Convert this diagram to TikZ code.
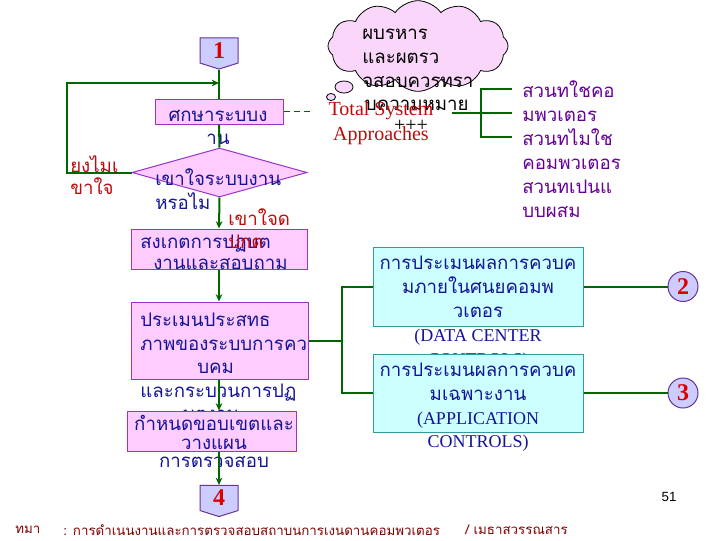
\documentclass[tikz,border=0pt]{standalone}
\usepackage{fontspec}
\newfontfamily\thai[Script=Thai]{Loma}
\newfontfamily\serifr{Liberation Serif}
\newfontfamily\sansr{Liberation Sans}
\usetikzlibrary{shapes.geometric,shapes.symbols,arrows.meta}
\definecolor{pinkfill}{RGB}{255,204,255}
\definecolor{pinkedge}{RGB}{153,51,204}
\definecolor{cyanfill}{RGB}{204,255,255}
\definecolor{cyanedge}{RGB}{51,153,153}
\definecolor{lavfill}{RGB}{204,204,255}
\definecolor{lavedge}{RGB}{102,51,153}
\definecolor{lgreen}{RGB}{0,102,0}
\definecolor{navytxt}{RGB}{20,20,150}
\definecolor{redtxt}{RGB}{190,10,10}
\definecolor{numred}{RGB}{220,0,0}
\definecolor{purtxt}{RGB}{102,0,153}
\definecolor{foottxt}{RGB}{128,0,0}
\definecolor{cloudfill}{RGB}{250,215,250}
\lineskiplimit=-100pt
\begin{document}
\begin{tikzpicture}[x=0.75pt,y=-0.75pt,
  pinkbox/.style={rectangle,draw=pinkedge,fill=pinkfill,line width=0.75pt,inner sep=0pt},
  cyanbox/.style={rectangle,draw=cyanedge,fill=cyanfill,line width=0.75pt,inner sep=0pt},
  pent/.style={shape=signal,signal to=south,signal pointer angle=145,draw=lavedge,fill=lavfill,line width=0.75pt,inner sep=0pt,minimum width=28.5pt,minimum height=20.25pt,text=numred,font=\serifr\bfseries\fontsize{18}{18}\selectfont},
  circnum/.style={circle,draw=lavedge,fill=lavfill,line width=0.75pt,inner sep=0pt,minimum size=22.5pt,text=numred,font=\serifr\bfseries\fontsize{18}{18}\selectfont},
  gline/.style={draw=lgreen,line width=1.5pt},
  flowarrow/.style={gline,-{Stealth[length=5.5pt,width=5pt]}},
  thtxt/.style={inner sep=0pt,text=navytxt},
  redlbl/.style={inner sep=0pt,text=redtxt},
  foot/.style={inner sep=0pt,anchor=west,text=foottxt,font=\thai\fontsize{10}{10}\selectfont},
]
\useasboundingbox (0,0) rectangle (720,540);

% cloud
\node[cloud,draw=black,fill=cloudfill,cloud puffs=12,cloud puff arc=110,aspect=2,minimum width=135pt,minimum height=68pt,line width=0.6pt] (cl) at (418,46) {};
\node[ellipse,draw=black,fill=cloudfill,line width=0.6pt,inner sep=0pt,minimum width=13.5pt,minimum height=9pt] (b1) at (344,87) {};
\node[ellipse,draw=black,fill=cloudfill,line width=0.6pt,inner sep=0pt,minimum width=6.75pt,minimum height=5.25pt] (b2) at (331,97) {};
\node[inner sep=0pt,anchor=west,align=left,text=black,font=\thai\fontsize{14}{17.8}\selectfont] (clt) at (362,70) {ผบรหาร\\และผตรว\\จสอบควรทรา\\\hspace*{2pt}บความหมาย};

% Total System Approaches
\node[inner sep=0pt,align=center,text=redtxt,font=\serifr\fontsize{15}{18.75}\selectfont] (tsa) at (381,123.5) {Total System\\Approaches};
\node[inner sep=0pt,text=black,font=\serifr\fontsize{15}{15}\selectfont] (plus) at (411,126) {+++};

% left flow
\node[pent] (p1) at (219,50.5) {1};
\node[pinkbox,minimum width=96pt,minimum height=18.75pt] (s1) at (219,111.5) {};
\node[thtxt,align=center,font=\thai\fontsize{14}{17.25}\selectfont] (t1) at (218,127.5) {ศกษาระบบง\\าน};
\node[diamond,draw=pinkedge,fill=pinkfill,line width=0.75pt,inner sep=0pt,minimum width=131.25pt,minimum height=36.75pt] (dia) at (219.5,172.5) {};
\node[thtxt,anchor=west,align=left,font=\thai\fontsize{14}{18}\selectfont] (t2) at (155,189) {เขาใจระบบงาน\\หรอไม};
\node[redlbl,anchor=west,align=left,font=\thai\fontsize{14}{16.5}\selectfont] (t3) at (70,175.5) {ยงไมเ\\ขาใจ};
\node[pinkbox,minimum width=132pt,minimum height=30pt] (s2) at (219,249) {};
\node[thtxt,anchor=west,align=left,font=\thai\fontsize{14}{15.75}\selectfont] (t5) at (140,252.5) {สงเกตการปฏบต\\\hspace*{9.75pt}งานและสอบถาม};
\node[redlbl,anchor=west,align=left,font=\thai\fontsize{14}{17.25}\selectfont] (t4) at (228,228.5) {เขาใจด\\ปกต};
\node[pinkbox,minimum width=132.75pt,minimum height=57.75pt] (s3) at (219.5,340.5) {};
\node[thtxt,anchor=west,align=left,font=\thai\fontsize{14}{17.6}\selectfont] (t6) at (140,367) {ประเมนประสทธ\\ภาพของระบบการคว\\\hspace*{42.75pt}บคม\\และกระบวนการปฏ\\\hspace*{32pt}บตงาน};
\node[pinkbox,minimum width=126.75pt,minimum height=30pt] (s4) at (211.5,431) {};
\node[thtxt,align=center,font=\thai\fontsize{14}{13.9}\selectfont] (t7) at (214,441.5) {กำหนดขอบเขตและ\\วางแผน\\การตรวจสอบ};
\node[pent] (p4) at (219,498) {4};

% right boxes
\node[cyanbox,minimum width=157.5pt,minimum height=59.25pt] (cA) at (478,286.5) {};
\node[thtxt,align=center,font=\thai\fontsize{14}{18}\selectfont] (tA) at (478,312.5) {การประเมนผลการควบค\\มภายในศนยคอมพ\hspace*{27pt}\\วเตอร\\{\serifr\fontsize{13.5}{18}\selectfont (DATA CENTER}\\{\serifr\fontsize{13.5}{18}\selectfont CONTROLS)}};
\node[cyanbox,minimum width=157.5pt,minimum height=58.5pt] (cB) at (478,393) {};
\node[thtxt,align=center,font=\thai\fontsize{14}{17.8}\selectfont] (tB) at (478,407.5) {การประเมนผลการควบค\\มเฉพาะงาน\\{\serifr\fontsize{13.5}{17.8}\selectfont (APPLICATION}\\{\serifr\fontsize{13.5}{17.8}\selectfont CONTROLS)}};
\node[circnum] (c2) at (683,286.5) {2};
\node[circnum] (c3) at (683,393) {3};

% right purple text
\node[inner sep=0pt,anchor=west,align=left,text=purtxt,font=\thai\fontsize{14}{17.9}\selectfont] (rt) at (522,149) {สวนทใชคอ\\มพวเตอร\\สวนทไมใช\\คอมพวเตอร\\สวนทเปนแ\\บบผสม};

% page number and footer
\node[inner sep=0pt,text=black,font=\sansr\fontsize{10}{10}\selectfont] (pg) at (669,497) {51};
\node[foot] (f1) at (15,530) {ทมา};
\node[foot] (f2) at (63,530) {: การดำเนนงานและการตรวจสอบสถาบนการเงนดานคอมพวเตอร};
\node[foot] (f3) at (465,530) {/ เมธาสวรรณสาร};

% connectors
\coordinate (lp) at (67,83);
\coordinate (jn) at (219,83);
\coordinate (dsend) at (311,111.5);
\coordinate (br) at (342,340.5);
\coordinate (ts0) at (452,112.5);
\coordinate (tb) at (481,89);
\coordinate (mb) at (481,112.5);
\coordinate (bb) at (481,137);
\coordinate (tbe) at (512,89);
\coordinate (mbe) at (512,112.5);
\coordinate (bbe) at (512,137);

\draw[gline] (p1.south) -- (s1.north);
\draw[gline] (s1.south) -- (dia.north);
\draw[flowarrow] (dia.west) -| (lp) -- (jn);
\draw[flowarrow] (dia.south) -- (s2.north);
\draw[flowarrow] (s2.south) -- (s3.north -| s2.south);
\draw[flowarrow] (s3.south -| s2.south) -- (s4.north -| s2.south);
\draw[flowarrow] (s4.south -| p4.north) -- (p4.north);
\draw[gline,line width=1.1pt,dash pattern=on 4.5pt off 3pt] (s1.east) -- (dsend);
\draw[gline] (s3.east) -- (br);
\draw[gline] (cA.west) -| (br) |- (cB.west);
\draw[gline] (cA.east) -- (c2.west);
\draw[gline] (cB.east) -- (c3.west);
\draw[gline] (ts0) -- (mb);
\draw[gline] (tbe) -- (tb) -- (bb) -- (bbe);
\draw[gline] (mb) -- (mbe);
\end{tikzpicture}
\end{document}
